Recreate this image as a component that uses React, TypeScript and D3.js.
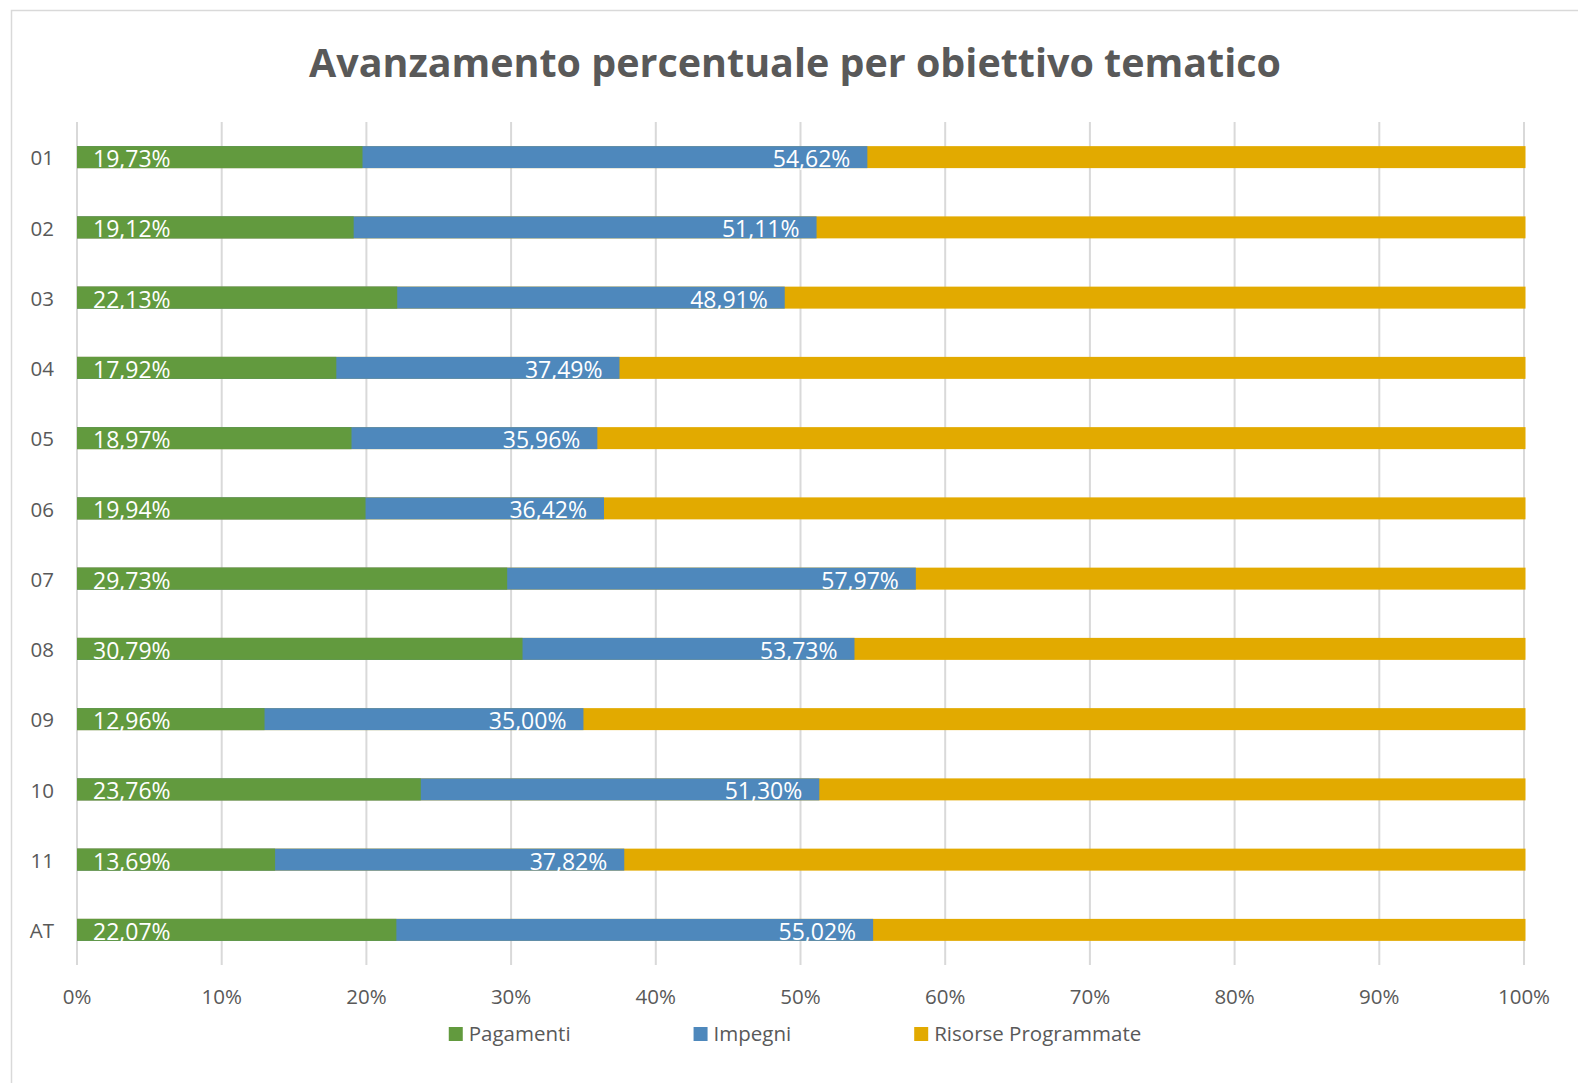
import React, { useEffect, useRef } from "react";
import * as d3 from "d3";

const categories = ["01", "02", "03", "04", "05", "06", "07", "08", "09", "10", "11", "AT"];
const pagamenti = [19.73, 19.12, 22.13, 17.92, 18.97, 19.94, 29.73, 30.79, 12.96, 23.76, 13.69, 22.07];
const impegni = [54.62, 51.11, 48.91, 37.49, 35.96, 36.42, 57.97, 53.73, 35.0, 51.3, 37.82, 55.02];
const risorse = [100, 100, 100, 100, 100, 100, 100, 100, 100, 100, 100, 100];
const xTicks = [0, 10, 20, 30, 40, 50, 60, 70, 80, 90, 100];
const seriesNames = ["Pagamenti", "Impegni", "Risorse Programmate"];
const seriesColors = ["#629A3E", "#4E88BC", "#E2AA00"];
const title = "Avanzamento percentuale per obiettivo tematico";

const W = 1578;
const H = 1083;
const FONT = "'Open Sans', 'Noto Sans', sans-serif";
const fmt = (v: number) => v.toFixed(2).replace(".", ",") + "%";

export default function App() {
  const ref = useRef<SVGSVGElement | null>(null);

  useEffect(() => {
    const svg = d3.select(ref.current);
    svg.selectAll("*").remove();

    const left = 77, right = 1524, top = 122, bottom = 965;
    const x = d3.scaleLinear().domain([0, 100]).range([left, right]);
    const y = d3.scaleBand<string>().domain(categories).range([top, bottom]).paddingInner(0.687).paddingOuter(0.3435);
    const bh = y.bandwidth();

    // background & border
    svg.append("rect").attr("x", 0).attr("y", 0).attr("width", W).attr("height", H).attr("fill", "#fff");
    svg.append("rect").attr("x", 11.5).attr("y", 10.5).attr("width", W + 20).attr("height", H + 20)
      .attr("fill", "none").attr("stroke", "#D9D9D9").attr("stroke-width", 1.5);

    // title
    svg.append("text").attr("x", 795).attr("y", 77).attr("text-anchor", "middle")
      .attr("font-family", FONT).attr("font-weight", 700).attr("font-size", 40).attr("fill", "#595959")
      .attr("textLength", 972).attr("lengthAdjust", "spacingAndGlyphs").text(title);

    // gridlines
    svg.append("g").selectAll("line").data(xTicks).join("line")
      .attr("x1", (d) => x(d)).attr("x2", (d) => x(d)).attr("y1", top).attr("y2", bottom)
      .attr("stroke", "#D9D9D9").attr("stroke-width", 2);

    // x tick labels
    svg.append("g").selectAll("text").data(xTicks).join("text")
      .attr("x", (d) => x(d)).attr("y", 997).attr("dy", "0.35em").attr("text-anchor", "middle")
      .attr("font-family", FONT).attr("font-size", 20.5).attr("fill", "#595959")
      .text((d) => d + "%");

    // y labels
    svg.append("g").selectAll("text").data(categories).join("text")
      .attr("x", 54).attr("y", (d) => (y(d) as number) + bh / 2 + 1).attr("dy", "0.35em").attr("text-anchor", "end")
      .attr("font-family", FONT).attr("font-size", 20.5).attr("fill", "#595959")
      .text((d) => d);

    const rows = categories.map((c, i) => ({ c, p: pagamenti[i], im: impegni[i], r: risorse[i] }));

    // bars: risorse (full), impegni, pagamenti overlapped
    const g = svg.append("g");
    g.selectAll("rect.r").data(rows).join("rect").attr("class", "r")
      .attr("x", x(0)).attr("y", (d) => y(d.c) as number).attr("width", (d) => x(d.r) - x(0) + 1.5).attr("height", bh)
      .attr("fill", seriesColors[2]);
    g.selectAll("rect.i").data(rows).join("rect").attr("class", "i")
      .attr("x", x(0)).attr("y", (d) => y(d.c) as number).attr("width", (d) => x(d.im) - x(0)).attr("height", bh)
      .attr("fill", seriesColors[1]);
    g.selectAll("rect.p").data(rows).join("rect").attr("class", "p")
      .attr("x", x(0)).attr("y", (d) => y(d.c) as number).attr("width", (d) => x(d.p) - x(0)).attr("height", bh)
      .attr("fill", seriesColors[0]);

    // labels
    g.selectAll("text.pl").data(rows).join("text").attr("class", "pl")
      .attr("x", x(0) + 16).attr("y", (d) => (y(d.c) as number) + bh / 2 + 2).attr("dy", "0.35em")
      .attr("font-family", FONT).attr("font-size", 23).attr("fill", "#fff").text((d) => fmt(d.p));
    g.selectAll("text.il").data(rows).join("text").attr("class", "il")
      .attr("x", (d) => x(d.im) - 17).attr("y", (d) => (y(d.c) as number) + bh / 2 + 2).attr("dy", "0.35em")
      .attr("text-anchor", "end")
      .attr("font-family", FONT).attr("font-size", 23).attr("fill", "#fff").text((d) => fmt(d.im));

    // legend
    const lg = svg.append("g");
    const items = seriesNames.map((name, i) => {
      const it = lg.append("g");
      it.append("rect").attr("x", 0).attr("y", -7).attr("width", 14).attr("height", 14).attr("fill", seriesColors[i]);
      const t = it.append("text").attr("x", 20).attr("y", 0).attr("dy", "0.35em")
        .attr("font-family", FONT).attr("font-size", 20.5).attr("fill", "#595959").text(name);
      const w = 20 + (t.node() as SVGTextElement).getComputedTextLength();
      return { it, w };
    });
    const gap = 123;
    const total = d3.sum(items, (d) => d.w) + gap * (items.length - 1);
    let cx = 795 - total / 2;
    items.forEach(({ it, w }) => {
      it.attr("transform", `translate(${cx},1034)`);
      cx += w + gap;
    });
  }, []);

  return (
    <svg ref={ref} width={W} height={H} style={{ position: "absolute", left: 0, top: 0, display: "block" }} />
  );
}
